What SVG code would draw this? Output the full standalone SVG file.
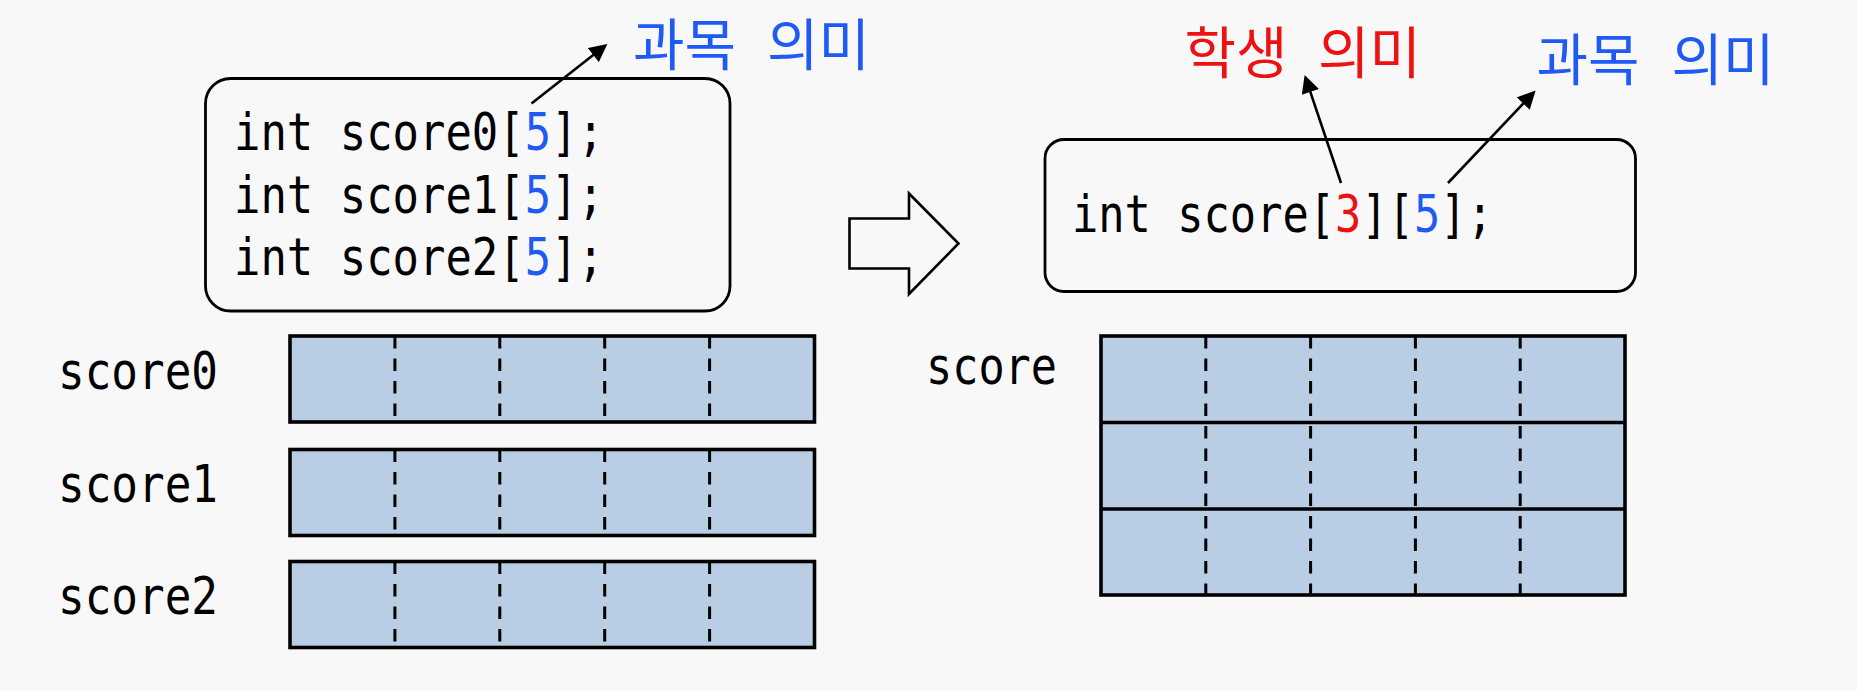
<svg xmlns="http://www.w3.org/2000/svg" width="1857" height="691" viewBox="0 0 1857 691">
<style>
.bg{fill:#f8f8f8}
.box{fill:none;stroke:#000;stroke-width:2.8}
.code{font-family:"DejaVu Sans Mono","Liberation Mono",monospace;font-size:51px;fill:#000}
.kr{font-family:"Noto Sans CJK KR","Noto Sans",sans-serif;font-size:56px}
.blue{fill:#1f5af5}
.red{fill:#ee1111}
.cell{fill:#b9cde5;stroke:#000;stroke-width:3.6}
.dash{stroke:#000;stroke-width:3;stroke-dasharray:12.5 10;fill:none}
.solid{stroke:#000;stroke-width:3.6;fill:none}
.conn{stroke:#000;stroke-width:2.6;fill:none;marker-end:url(#ah)}
</style>
<defs>
<marker id="ah" viewBox="0 0 10 10" refX="8.3" refY="5" markerWidth="18.5" markerHeight="18" markerUnits="userSpaceOnUse" orient="auto">
<path d="M0,0 L10,5 L0,10 z" fill="#000"/>
</marker>
</defs>
<rect class="bg" x="0" y="0" width="1857" height="691"/>

<g id="left-code">
<rect class="box" x="205.5" y="78.5" width="524.5" height="232.5" rx="25" ry="25"/>
<text class="code" x="234" y="150" textLength="370" lengthAdjust="spacingAndGlyphs">int score0[<tspan class="blue">5</tspan>];</text>
<text class="code" x="234" y="212.5" textLength="370" lengthAdjust="spacingAndGlyphs">int score1[<tspan class="blue">5</tspan>];</text>
<text class="code" x="234" y="275" textLength="370" lengthAdjust="spacingAndGlyphs">int score2[<tspan class="blue">5</tspan>];</text>
</g>

<g id="label-left-subject">
<text class="kr blue" y="64.5"><tspan x="633">과목</tspan> <tspan x="767">의미</tspan></text>
</g>

<g id="transform-arrow">
<polygon points="849.5,218.5 909,218.5 909,193.5 958.5,243.5 909,294 909,268.5 849.5,268.5" fill="none" stroke="#000" stroke-width="2.6"/>
</g>

<g id="right-code">
<rect class="box" x="1045" y="139.5" width="590.5" height="152" rx="19" ry="19"/>
<text class="code" x="1072" y="232" textLength="421" lengthAdjust="spacingAndGlyphs">int score[<tspan class="red">3</tspan>][<tspan class="blue">5</tspan>];</text>
</g>

<g id="label-student">
<text class="kr red" y="73"><tspan x="1184.5">학생</tspan> <tspan x="1318">의미</tspan></text>
</g>
<g id="label-right-subject">
<text class="kr blue" y="79.5"><tspan x="1536.5">과목</tspan> <tspan x="1671.5">의미</tspan></text>
</g>

<g id="array-score0">
<text class="code" x="58" y="388.5" textLength="160" lengthAdjust="spacingAndGlyphs">score0</text>
<rect class="cell" x="290" y="336" width="524.5" height="86"/>
<path class="dash" d="M394.9,336V422M499.8,336V422M604.7,336V422M709.6,336V422"/>
</g>
<g id="array-score1">
<text class="code" x="58" y="501.5" textLength="160" lengthAdjust="spacingAndGlyphs">score1</text>
<rect class="cell" x="290" y="449.5" width="524.5" height="86"/>
<path class="dash" d="M394.9,449.5V535.5M499.8,449.5V535.5M604.7,449.5V535.5M709.6,449.5V535.5"/>
</g>
<g id="array-score2">
<text class="code" x="58" y="613.5" textLength="160" lengthAdjust="spacingAndGlyphs">score2</text>
<rect class="cell" x="290" y="561.5" width="524.5" height="86"/>
<path class="dash" d="M394.9,561.5V647.5M499.8,561.5V647.5M604.7,561.5V647.5M709.6,561.5V647.5"/>
</g>

<g id="array-score">
<text class="code" x="926" y="384" textLength="131" lengthAdjust="spacingAndGlyphs">score</text>
<rect class="cell" x="1101" y="336" width="524" height="259"/>
<path class="solid" d="M1101,422.5H1625M1101,509H1625"/>
<path class="dash" d="M1205.8,336V595M1310.6,336V595M1415.4,336V595M1520.2,336V595"/>
</g>

<g id="connectors">
<line class="conn" x1="531.5" y1="103.5" x2="605" y2="45.8"/>
<line class="conn" x1="1341" y1="183" x2="1305.6" y2="77.8"/>
<line class="conn" x1="1448" y1="183" x2="1533.5" y2="92.7"/>
</g>
</svg>
